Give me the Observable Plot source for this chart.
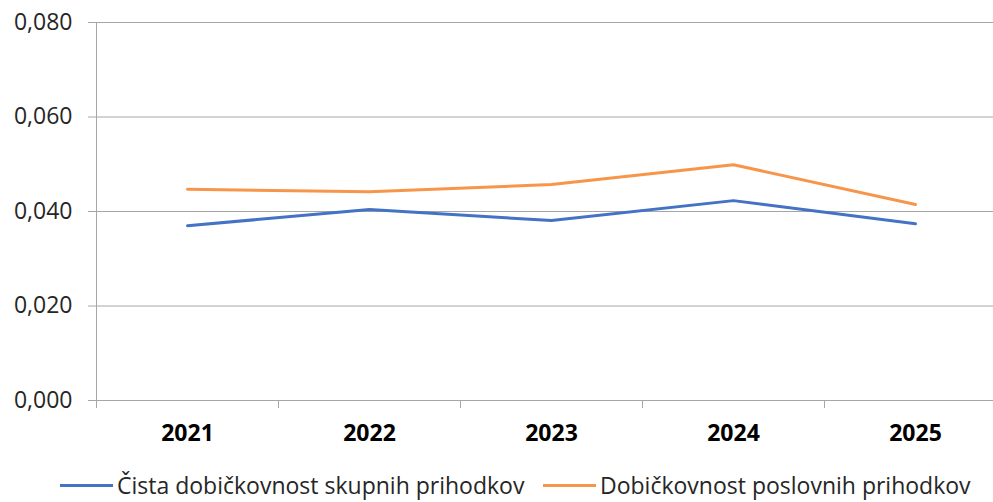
<!DOCTYPE html>
<html>
<head>
<meta charset="utf-8">
<script src="https://cdn.jsdelivr.net/npm/d3@7"></script>
<script src="https://cdn.jsdelivr.net/npm/@observablehq/plot@0.6"></script>
<style>
  html, body { margin: 0; padding: 0; background: #fff; overflow: hidden; }
  #wrap { position: relative; width: 993px; height: 502px; }
  #legend { position: absolute; left: 60px; top: 473px; font-family: "Open Sans", sans-serif; font-size: 23px; line-height: 24px; color: #262626; white-space: nowrap; }
  #legend .item { position: absolute; top: 0; height: 24px; display: flex; align-items: center; }
  #legend .sw { display: inline-block; width: 53px; height: 3px; margin-right: 4px; }
</style>
</head>
<body>
<div id="wrap"><div id="chart"></div><div id="legend"></div></div>
<script>
const years = [2021, 2022, 2023, 2024, 2025];
const seriesNames = ["Čista dobičkovnost skupnih prihodkov", "Dobičkovnost poslovnih prihodkov"];
const cistaValues = [0.0370, 0.0404, 0.0381, 0.0423, 0.0374];
const poslovniValues = [0.0447, 0.0442, 0.0457, 0.0499, 0.0415];
const yTicks = [0, 0.02, 0.04, 0.06, 0.08];
const colors = ["#4472C4", "#F7964A"];

const data = [
  ...years.map((y, i) => ({year: y, value: cistaValues[i], series: seriesNames[0]})),
  ...years.map((y, i) => ({year: y, value: poslovniValues[i], series: seriesNames[1]}))
];
const boundaries = years.map(y => y - 0.5);
const fmt = v => d3.format(".3f")(v).replace(".", ",");

const chart = Plot.plot({
  width: 993,
  height: 470,
  marginLeft: 96,
  marginRight: 0,
  marginTop: 22,
  marginBottom: 70,
  style: {fontFamily: "'Open Sans', sans-serif", background: "#fff"},
  x: {type: "linear", domain: [2020.5, 2025.5], range: [96, 1006], axis: null},
  y: {type: "linear", domain: [0, 0.08], axis: null},
  color: {domain: seriesNames, range: colors},
  marks: [
    Plot.ruleY(yTicks, {stroke: "#a6a6a6", strokeWidth: 1}),
    Plot.ruleX([2020.5], {y1: 0, y2: 0.08, stroke: "#a6a6a6"}),
    Plot.axisX({ticks: boundaries, tickSize: 8, tickFormat: () => "", stroke: "#a6a6a6", label: null}),
    Plot.axisY({ticks: yTicks, tickSize: 8, tickPadding: 16, tickFormat: fmt, fontSize: 23, fill: "#262626", stroke: "#a6a6a6", label: null}),
    Plot.axisX({ticks: years, tickSize: 0, tickPadding: 24, tickFormat: d => String(d), fontSize: 23, fontWeight: "bold", fill: "#000", label: null}),
    Plot.line(data, {x: "year", y: "value", z: "series", stroke: "series", strokeWidth: 3, curve: "linear"})
  ]
});
document.getElementById("chart").appendChild(chart);

const legend = document.getElementById("legend");
const offsets = [0, 483];
seriesNames.forEach((name, i) => {
  const item = document.createElement("div");
  item.className = "item";
  item.style.left = offsets[i] + "px";
  const sw = document.createElement("span");
  sw.className = "sw";
  sw.style.background = colors[i];
  const t = document.createElement("span");
  t.textContent = name;
  item.appendChild(sw);
  item.appendChild(t);
  legend.appendChild(item);
});
</script>
</body>
</html>
